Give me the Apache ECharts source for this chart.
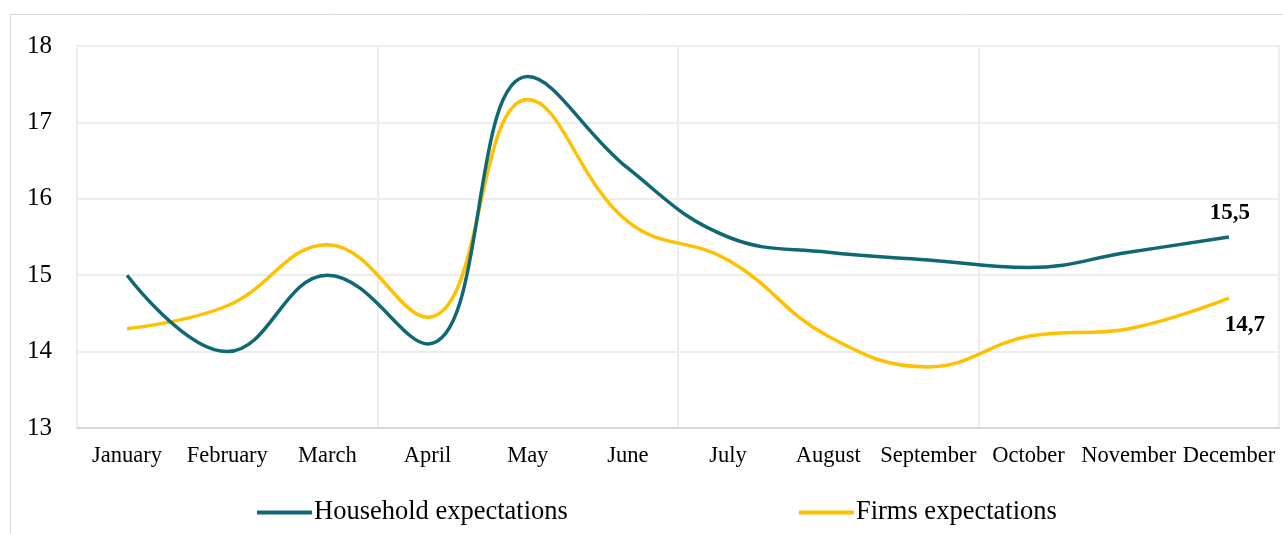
<!DOCTYPE html>
<html>
<head>
<meta charset="utf-8">
<script src="https://cdn.jsdelivr.net/npm/echarts@6/dist/echarts.min.js"></script>
<style>
  html, body { margin: 0; padding: 0; background: #fff; }
  #chart { width: 1283px; height: 534px; }
</style>
</head>
<body>
<div id="chart"></div>
<script>
// Monthly inflation expectations, households vs firms
const months = ['January', 'February', 'March', 'April', 'May', 'June', 'July',
  'August', 'September', 'October', 'November', 'December'];
const householdExpectations = [15.0, 14.0, 15.0, 14.1, 17.6, 16.4, 15.5, 15.3, 15.2, 15.1, 15.3, 15.5];
const firmsExpectations = [14.3, 14.6, 15.4, 14.45, 17.3, 15.7, 15.2, 14.2, 13.8, 14.2, 14.3, 14.7];
const yTicks = { min: 13, max: 18, interval: 1 };

const FONT = '"Liberation Serif", "Times New Roman", serif';
const TEAL = '#0f6872';
const GOLD = '#ffc000';
const GRID_LINE = '#ededed';

const chart = echarts.init(document.getElementById('chart'), null, { renderer: 'canvas' });

// bold value label drawn at the last point of a line
function endValueLabel(offset) {
  return {
    show: true,
    align: 'center',
    verticalAlign: 'middle',
    distance: 0,
    offset: offset,
    fontFamily: FONT,
    fontWeight: 'bold',
    fontSize: 23,
    color: '#000',
    formatter: p => String(p.value).replace('.', ',')
  };
}

chart.setOption({
  animation: false,
  backgroundColor: '#fff',
  graphic: [{
    type: 'rect',
    shape: { x: 10.5, y: 14.5, width: 1400, height: 600 },
    style: { fill: 'none', stroke: '#d9d9d9', lineWidth: 1 },
    silent: true,
    z: -1
  }],
  grid: {
    left: 77, right: 4, top: 46, bottom: 106, containLabel: false,
    show: true, borderColor: GRID_LINE, borderWidth: 2
  },
  legend: {
    left: 257,
    top: 499,
    padding: 0,
    itemWidth: 55,
    itemHeight: 4,
    itemGap: 231,
    icon: 'rect',
    textStyle: { fontFamily: FONT, fontSize: 26.5, color: '#000', padding: [2, 0, 0, -3] },
    data: ['Household expectations', 'Firms expectations']
  },
  xAxis: {
    type: 'category',
    data: months,
    boundaryGap: true,
    axisLine: { show: true, lineStyle: { color: '#d9d9d9', width: 2 } },
    axisTick: { show: false },
    axisLabel: { fontFamily: FONT, fontSize: 22.5, color: '#000', margin: 17, interval: 0 },
    splitLine: { show: true, interval: i => i % 3 === 0, lineStyle: { color: GRID_LINE, width: 2 } }
  },
  yAxis: {
    type: 'value',
    min: yTicks.min,
    max: yTicks.max,
    interval: yTicks.interval,
    axisLine: { show: false },
    axisTick: { show: false },
    axisLabel: { fontFamily: FONT, fontSize: 25, color: '#000', margin: 25 },
    splitLine: { show: true, lineStyle: { color: GRID_LINE, width: 2 } }
  },
  series: [
    {
      name: 'Household expectations',
      type: 'line',
      data: householdExpectations,
      smooth: 0.42,
      symbol: 'none',
      lineStyle: { color: TEAL, width: 3.5 },
      itemStyle: { color: TEAL },
      endLabel: endValueLabel([1, -24]),
      z: 3
    },
    {
      name: 'Firms expectations',
      type: 'line',
      data: firmsExpectations,
      smooth: 0.42,
      symbol: 'none',
      lineStyle: { color: GOLD, width: 3.5 },
      itemStyle: { color: GOLD },
      endLabel: endValueLabel([16, 27]),
      z: 2
    }
  ]
});
</script>
</body>
</html>
